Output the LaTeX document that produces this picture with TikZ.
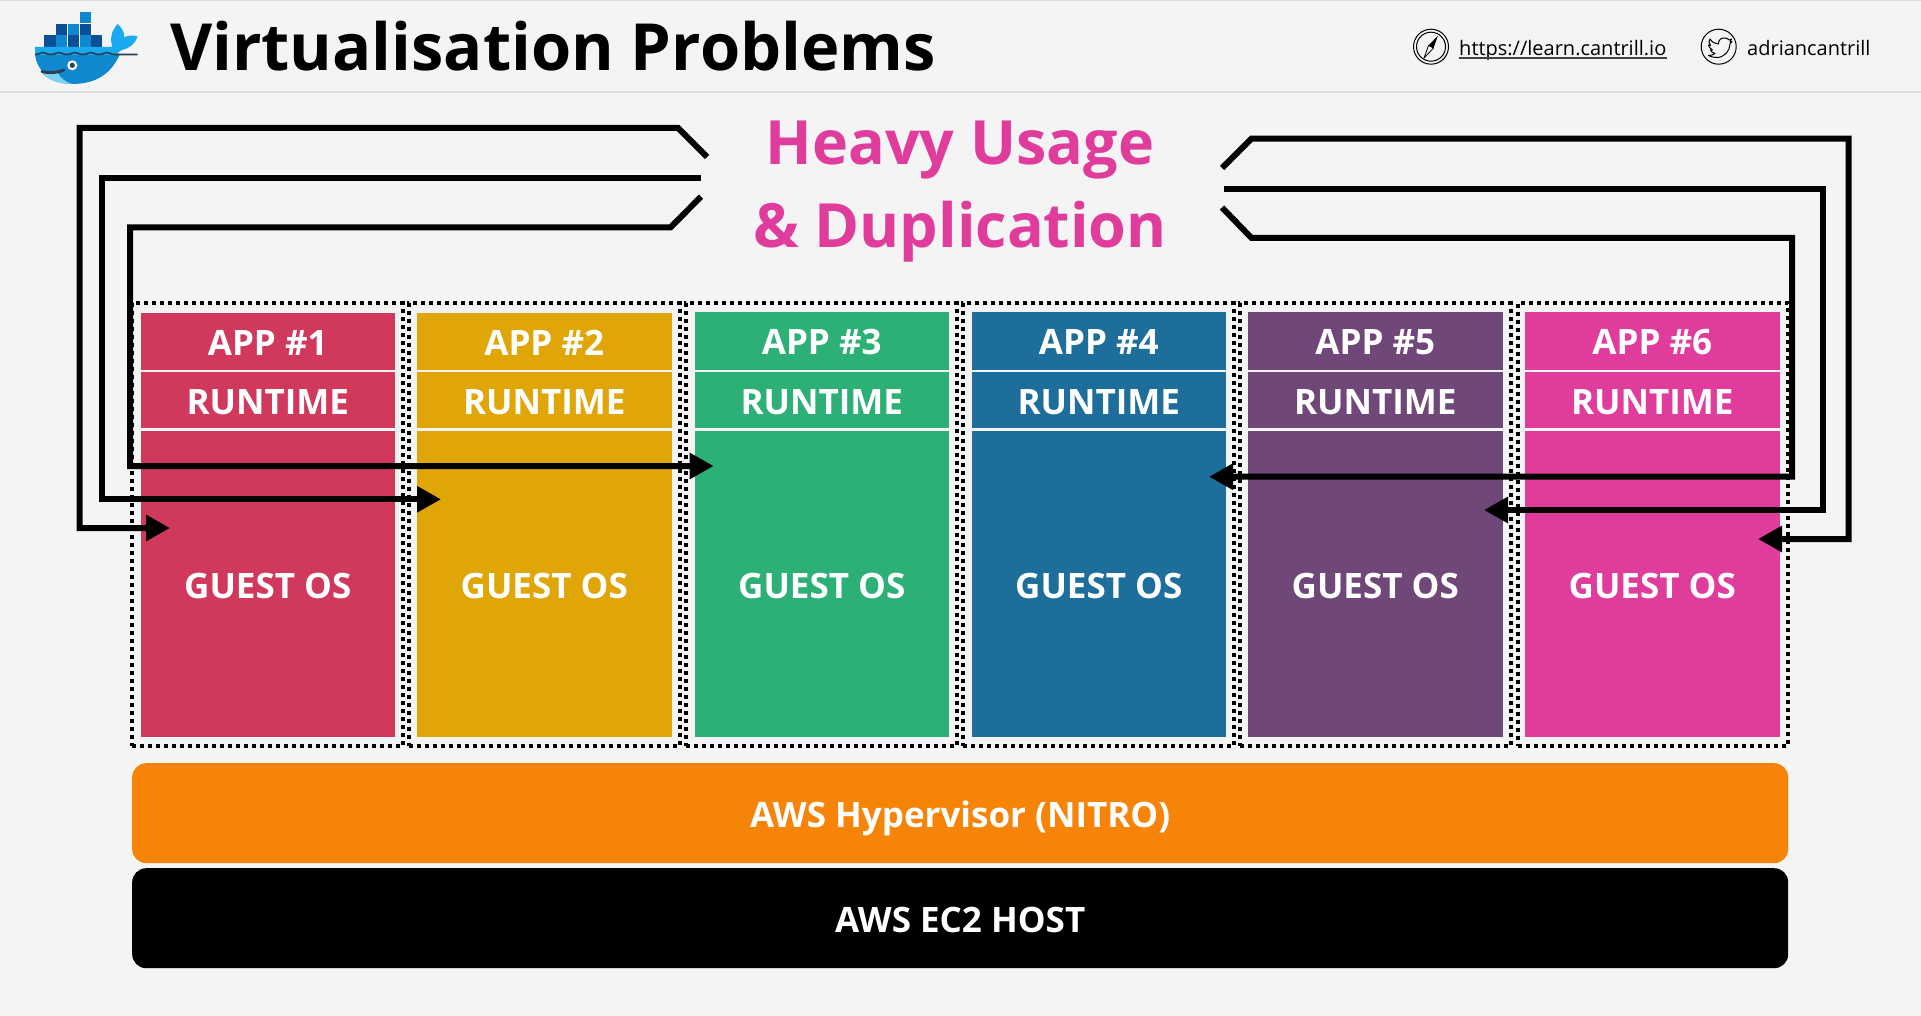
\documentclass[tikz,border=0pt]{standalone}
\usepackage{fontspec}
\setmainfont{Open Sans}
\usetikzlibrary{arrows.meta}
\definecolor{pagebg}{HTML}{F4F4F4}
\definecolor{rulegrey}{HTML}{DCDCDC}
\definecolor{cRed}{HTML}{D1395C}
\definecolor{cAmber}{HTML}{E0A506}
\definecolor{cGreen}{HTML}{2CB076}
\definecolor{cBlue}{HTML}{1E6E9C}
\definecolor{cPurple}{HTML}{6F4778}
\definecolor{cPink}{HTML}{E03C9C}
\definecolor{cOrange}{HTML}{F68408}
\definecolor{dkBox}{HTML}{0B4F94}
\definecolor{ltBox}{HTML}{1088D0}
\definecolor{deck}{HTML}{18A9EE}
\definecolor{belly}{HTML}{7FD0F5}
\definecolor{whaleDark}{HTML}{2A3F4F}
\newcommand{\fs}[1]{\fontsize{#1}{#1}\selectfont}
\tikzset{
  block/.style={rectangle,inner sep=0pt,outer sep=0pt,anchor=north west,minimum width=254.5pt,text=white,font=\fs{35}\bfseries,text height=28pt,text depth=0pt},
  vmbox/.style={rectangle,draw=black,line width=4pt,dash pattern=on 4pt off 4pt,inner sep=0pt,outer sep=0pt,anchor=north west,minimum height=443pt},
  bar/.style={rectangle,rounded corners=14pt,inner sep=0pt,anchor=north west,minimum width=1656pt,minimum height=100pt,text=white,font=\fs{35}\bfseries,text height=28.5pt,text depth=0pt},
  heavy/.style={inner sep=0pt,anchor=base,text=cPink,font=\fs{61}\bfseries},
  link/.style={line width=6pt,miter limit=10},
  flow/.style={link,-{Triangle[length=24pt,width=25pt]}},
  plain/.style={inner sep=0pt,anchor=base west,text=black}
}
\begin{document}
\begin{tikzpicture}[x=1pt,y=-1pt]
\useasboundingbox (0,0) rectangle (1921,1016);
\fill[pagebg] (0,0) rectangle (1921,1016);
\fill[rulegrey] (0,0) rectangle (1921,1.5);
\fill[rulegrey] (0,91.5) rectangle (1921,93);

% Logo
\begin{scope}
  \foreach \bx/\by/\bc in {79.5/12/ltBox,
     56/23.7/dkBox,67.8/23.7/ltBox,79.5/23.7/dkBox,
     44.3/35.4/dkBox,56/35.4/ltBox,67.8/35.4/dkBox,79.5/35.4/ltBox,91.2/35.4/dkBox}
    \fill[\bc] (\bx,\by) rectangle ++(11.2,11.2);
  % tail
  \fill[deck] (113,49) .. controls (109,38) and (112,30) .. (117.7,24)
     .. controls (122,28) and (125,33) .. (124,37.5)
     .. controls (128,35) and (133,35) .. (137.5,36.5)
     .. controls (135,44) and (130,48) .. (122,50) -- cycle;
  % body
  \fill[ltBox] (35,54) .. controls (37,72) and (52,84) .. (72,84)
     .. controls (98,84) and (112,72) .. (120,54) -- cycle;
  \fill[belly] (41,71.5) .. controls (46,80) and (58,84) .. (72,84) .. controls (66,82) and (60,78) .. (58,73) -- cycle;
  % deck
  \fill[deck] (35,47) -- (122,47) -- (122,50) .. controls (118,52) and (117,54) .. (116,55)
     -- (35,55) -- cycle;
  \draw[whaleDark,line width=1.6pt] (35,54.5)
     .. controls (39,54.5) and (41,52.5) .. (43,52.5) .. controls (45,52.5) and (47,54.5) .. (51,54.5)
     .. controls (55,54.5) and (57,52.5) .. (59,52.5) .. controls (61,52.5) and (63,54.5) .. (67,54.5)
     .. controls (71,54.5) and (73,52.5) .. (75,52.5) .. controls (77,52.5) and (79,54.5) .. (83,54.5)
     .. controls (87,54.5) and (89,52.5) .. (91,52.5) .. controls (93,52.5) and (95,54.5) .. (99,54.5)
     .. controls (103,54.5) and (105,52.5) .. (107,52.5) .. controls (109,52.5) and (111,54.5) .. (115,54.5)
     -- (137.5,54.5);
  \draw[whaleDark,line width=3pt,line cap=round] (42,71.5) .. controls (50,73.5) and (58,72.5) .. (64,70);
  \fill[white] (72.3,65.3) circle (5);
  \fill[whaleDark] (72.3,65.3) circle (2.6);
\end{scope}

% Title
\node[plain,font=\fs{65}\bfseries] (title) at (170,71) {Virtualisation Problems};

% Header right
\node[circle,draw=black,line width=1pt,minimum size=35pt,inner sep=0pt] (compass) at (1431,46.7) {};
\draw[black,line width=1pt] (compass.center) circle (14.5);
\fill[black] (1438,35.5) -- (1433.5,48) -- (1428.5,45.5) -- cycle;
\draw[black,line width=.8pt] (1424,58) -- (1428.5,45.5) -- (1433.5,48) -- cycle;
\node[plain,font=\fs{20}] (url) at (1459,55.5) {https://learn.cantrill.io};
\draw[black!75,line width=1.3pt] ([yshift=-2.5pt]url.base west) -- ([yshift=-2.5pt]url.base east);
\node[circle,draw=black,line width=1pt,minimum size=35pt,inner sep=0pt] (twitter) at (1718.7,46.7) {};
\draw[black,line width=1pt,line join=round] (1710,39) .. controls (1712,42) and (1715,44) .. (1718.5,44)
   .. controls (1718,39.5) and (1722,37.5) .. (1725,38) .. controls (1727,38) and (1728,39) .. (1729,40)
   -- (1731.5,39) -- (1730,42) -- (1732,41.5) -- (1730,44)
   .. controls (1730,51) and (1724,58) .. (1716,57.5)
   .. controls (1713,57.5) and (1710,56.5) .. (1708.5,55.5)
   .. controls (1711,55.5) and (1713,55) .. (1715,53.5)
   .. controls (1712,53) and (1711,51) .. (1710.5,50)
   -- (1712.5,50) .. controls (1710,48.5) and (1708.5,46.5) .. (1708.5,45)
   -- (1710.5,45.5) .. controls (1708.5,43) and (1708.5,41) .. (1710,39) -- cycle;
\node[plain,font=\fs{20}] (handle) at (1747,55.5) {adriancantrill};

% Dotted boxes
\node[vmbox,minimum width=270.5pt] (vm1) at (132.3,303) {};
\node[vmbox,minimum width=270.5pt] (vm2) at (409.3,303) {};
\node[vmbox,minimum width=270.5pt] (vm3) at (686.3,303) {};
\node[vmbox,minimum width=270.5pt] (vm4) at (963.3,303) {};
\node[vmbox,minimum width=270.5pt] (vm5) at (1240.3,303) {};
\node[vmbox,minimum width=270pt] (vm6) at (1518,303) {};

% Columns
\foreach \i/\x/\t/\c in {1/140.5/313/cRed,2/417/312.5/cAmber,3/694.5/312/cGreen,4/971.5/312/cBlue,5/1248/312/cPurple,6/1525/312/cPink}{
  \pgfmathsetmacro{\hA}{369.5-\t}
  \node[block,fill=\c,minimum height=\hA pt] (app\i) at (\x,\t) {APP \#\i};
  \node[block,fill=\c,minimum height=56pt] (run\i) at (\x,372) {RUNTIME};
  \node[block,fill=\c,minimum height=306pt] (os\i) at (\x,431) {GUEST OS};
}

% Bars
\node[bar,fill=cOrange] (hyper) at (132,763) {AWS Hypervisor (NITRO)};
\node[bar,fill=black] (host) at (132,868) {AWS EC2 HOST};

% Heading
\node[heavy] (usage) at (960,165) {Heavy Usage};
\node[heavy] (dup) at (960,248) {\& Duplication};

% Connector ends
\coordinate (la) at (707,157);  \coordinate (la1) at (678,128);  \coordinate (la2) at (79.7,128);  \coordinate (la3) at (79.7,528);  \coordinate (lat) at (170,528);
\coordinate (lb) at (701,177.7); \coordinate (lb2) at (101.6,177.7); \coordinate (lb3) at (101.6,499.3); \coordinate (lbt) at (441,499.3);
\coordinate (lc) at (701,196.7); \coordinate (lc1) at (670.5,227.3); \coordinate (lc2) at (130,227.3); \coordinate (lc3) at (130,466); \coordinate (lct) at (713.6,466);
\coordinate (ra) at (1222,168); \coordinate (ra1) at (1251.5,138.7); \coordinate (ra2) at (1848.5,138.7); \coordinate (ra3) at (1848.5,539); \coordinate (rat) at (1758,539);
\coordinate (rb) at (1224,189); \coordinate (rb2) at (1823.2,189); \coordinate (rb3) at (1823.2,510); \coordinate (rbt) at (1484,510);
\coordinate (rc) at (1222,207.5); \coordinate (rc1) at (1251.5,238); \coordinate (rc2) at (1792,238); \coordinate (rc3) at (1792,476.7); \coordinate (rct) at (1209,476.7);

\draw[flow] (la) -- (la1) -- (la2) -- (la3) -- (lat);
\draw[flow] (lb) -- (lb2) -- (lb3) -- (lbt);
\draw[flow] (lc) -- (lc1) -- (lc2) -- (lc3) -- (lct);
\draw[flow] (ra) -- (ra1) -- (ra2) -- (ra3) -- (rat);
\draw[flow] (rb) -- (rb2) -- (rb3) -- (rbt);
\draw[flow] (rc) -- (rc1) -- (rc2) -- (rc3) -- (rct);
\end{tikzpicture}
\end{document}
